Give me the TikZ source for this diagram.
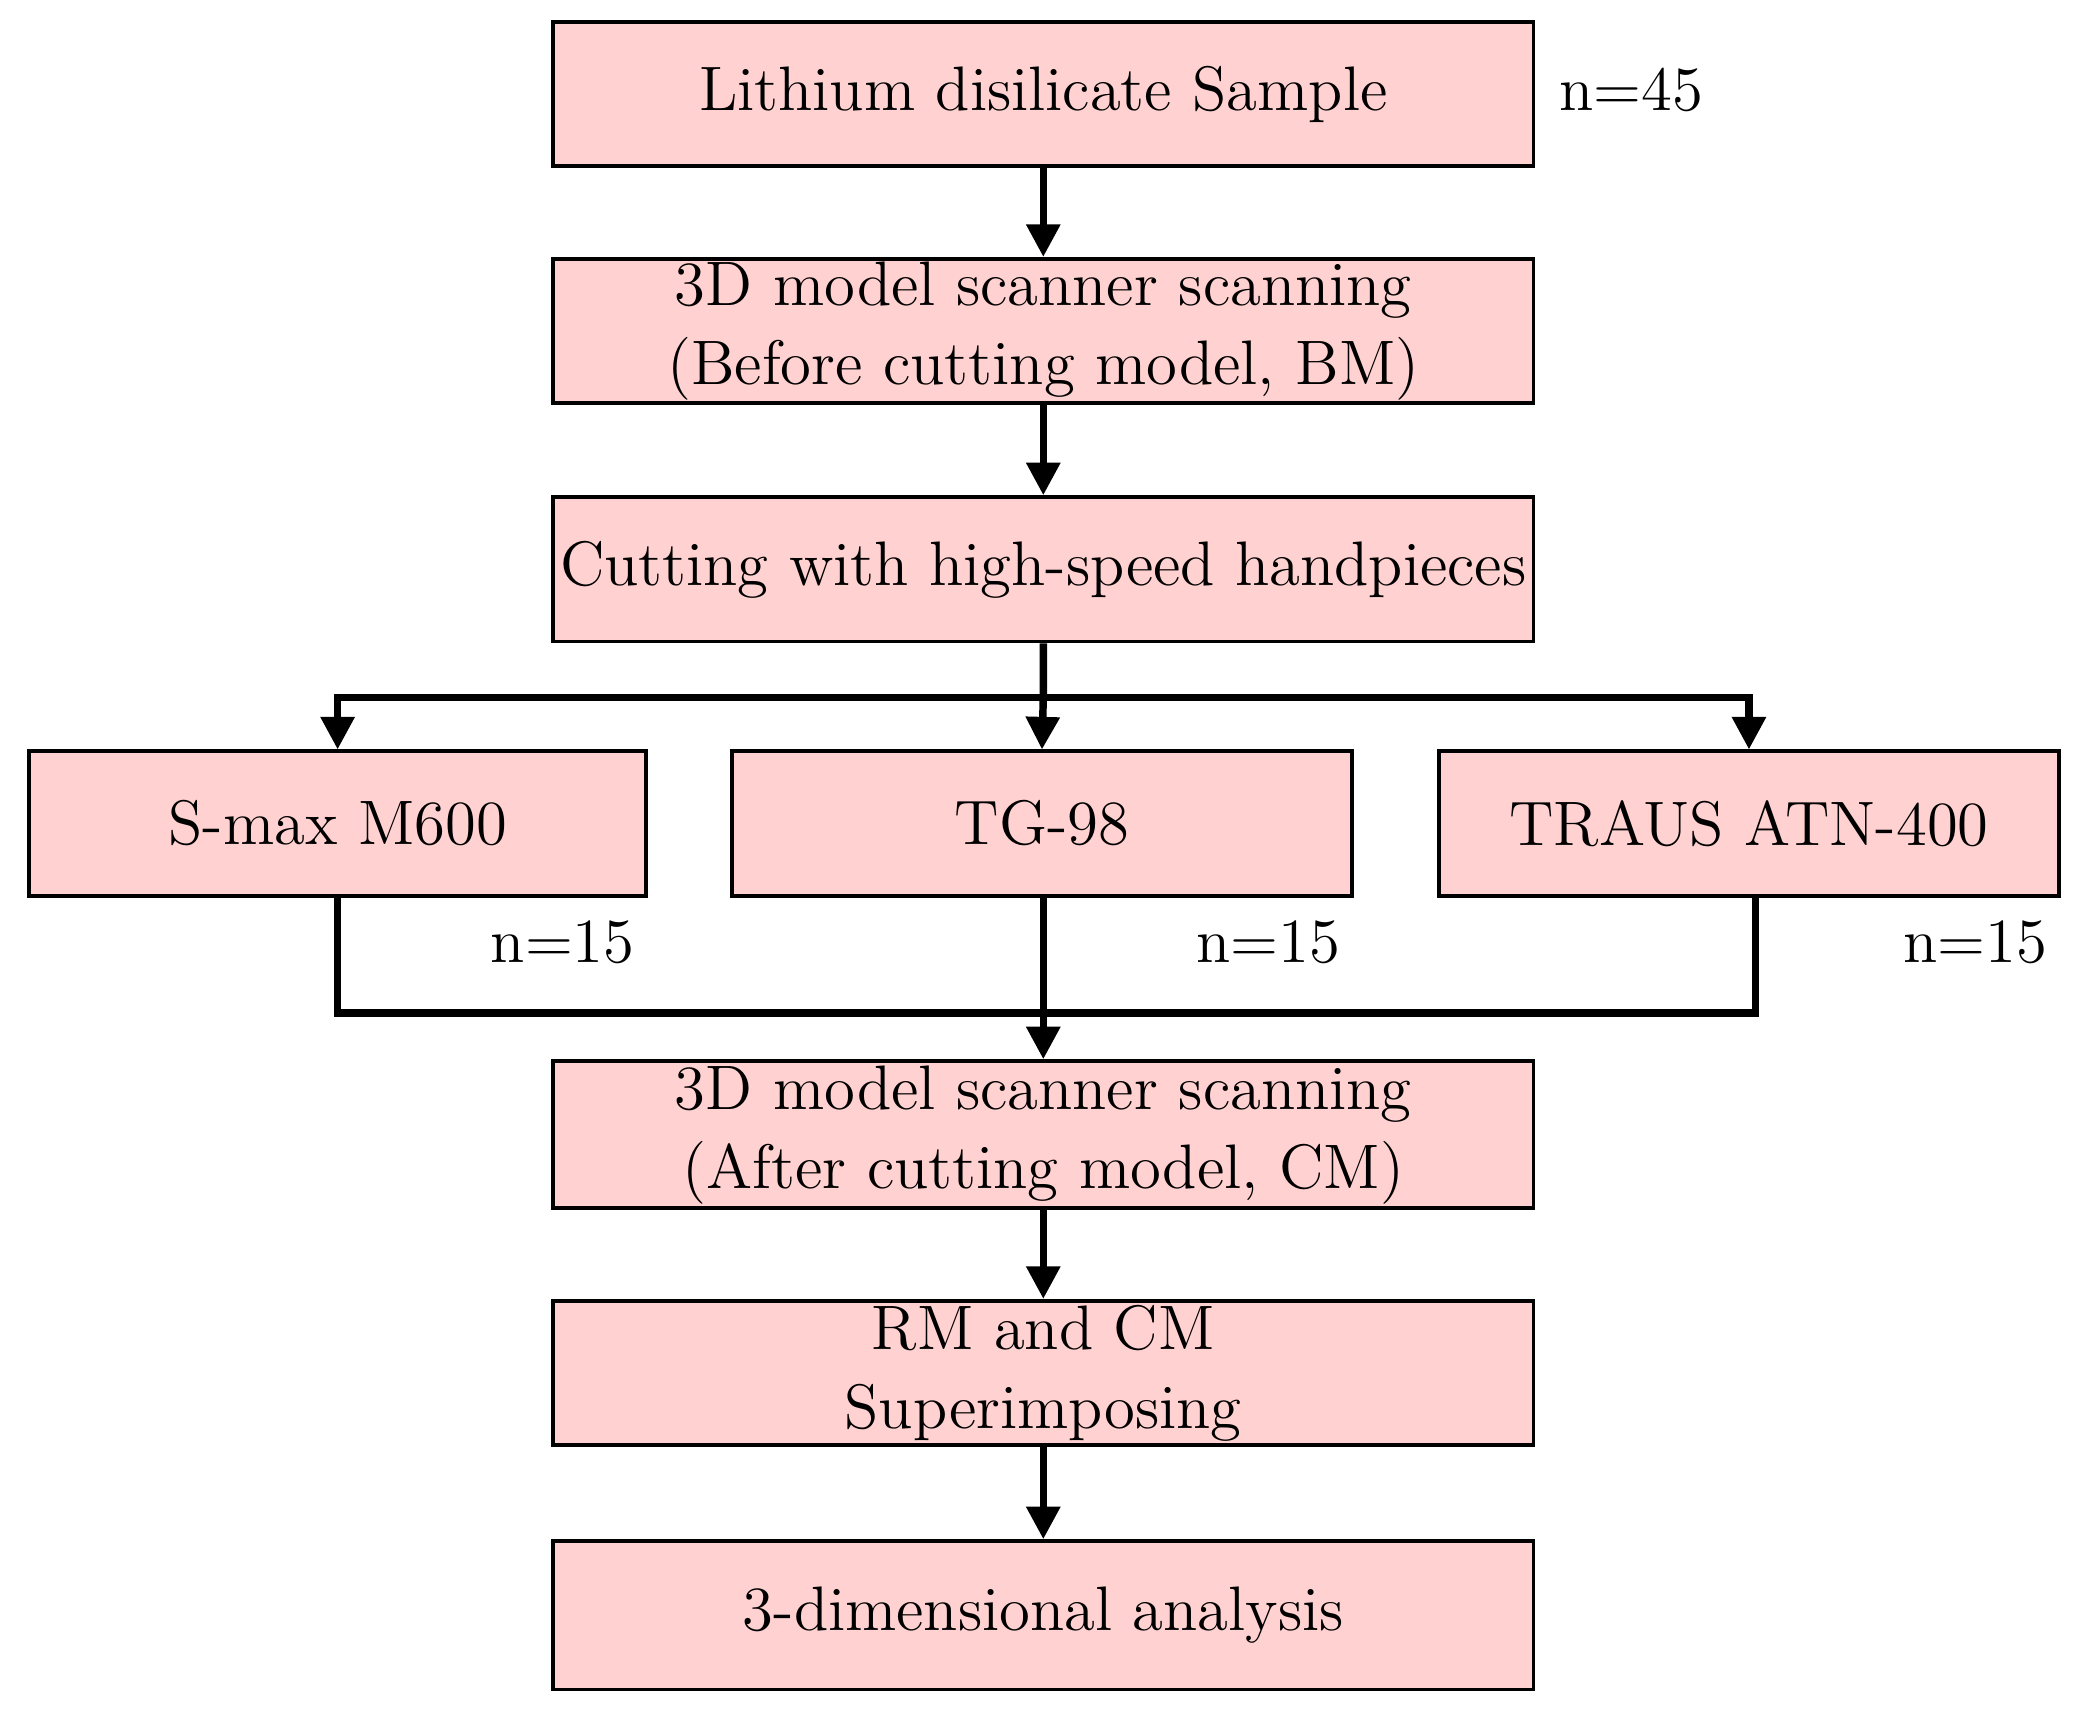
\documentclass[tikz,border=0pt]{standalone}
\usetikzlibrary{arrows.meta}
\begin{document}
\begin{tikzpicture}[x=0.01cm,y=-0.01cm,
  box/.style={draw=black,line width=0.8pt,fill=pinkfill,inner sep=0pt,align=center,font=\fontsize{13.5}{17}\selectfont},
  conn/.style={line width=1.6pt},
  arr/.style={conn,-{Triangle[length=7pt,width=7pt]}},
  lab/.style={font=\fontsize{13.5}{17}\selectfont}]
\definecolor{pinkfill}{HTML}{FFD1D1}
\useasboundingbox (0,0) rectangle (1568,1296);
\node[box,minimum width=740\pgflinewidth*0+7.4cm,minimum height=1.09cm] (b1) at (788,71) {Lithium disilicate Sample};
\node[box,minimum width=7.4cm,minimum height=1.09cm] (b2) at (788,250) {3D model scanner scanning\\(Before cutting model, BM)};
\node[box,minimum width=7.4cm,minimum height=1.09cm] (b3) at (788,430) {Cutting with high-speed handpieces};
\node[box,minimum width=4.66cm,minimum height=1.09cm] (s1) at (255,622) {S-max M600};
\node[box,minimum width=4.68cm,minimum height=1.09cm] (s2) at (787,622) {TG-98};
\node[box,minimum width=4.68cm,minimum height=1.09cm] (s3) at (1321,622) {TRAUS ATN-400};
\node[box,minimum width=7.4cm,minimum height=1.11cm] (b5) at (788,857) {3D model scanner scanning\\(After cutting model, CM)};
\node[box,minimum width=7.4cm,minimum height=1.09cm] (b6) at (788,1037) {RM and CM\\Superimposing};
\node[box,minimum width=7.4cm,minimum height=1.12cm] (b7) at (788,1220) {3-dimensional analysis};
\node[lab] (n45) at (1232,68) {n=45};
\node[lab] (n1) at (425,712) {n=15};
\node[lab] (n2) at (958,712) {n=15};
\node[lab] (n3) at (1492,712) {n=15};
\coordinate (sp) at (788,527);
\coordinate (mg) at (788,765);
\draw[arr] (b1) -- (b2);
\draw[arr] (b2) -- (b3);
\draw[arr] (b3.south) -- (sp) -- (s2.north);
\draw[arr] (sp) -| (s1.north);
\draw[arr] (sp) -| (s3.north);
\draw[conn] (s1.south) |- (mg);
\draw[conn] (s3.south -| 1326,0) |- (mg);
\draw[arr] (s2.south -| 788,0) -- (b5.north);
\draw[arr] (b5) -- (b6);
\draw[arr] (b6) -- (b7);
\end{tikzpicture}
\end{document}
